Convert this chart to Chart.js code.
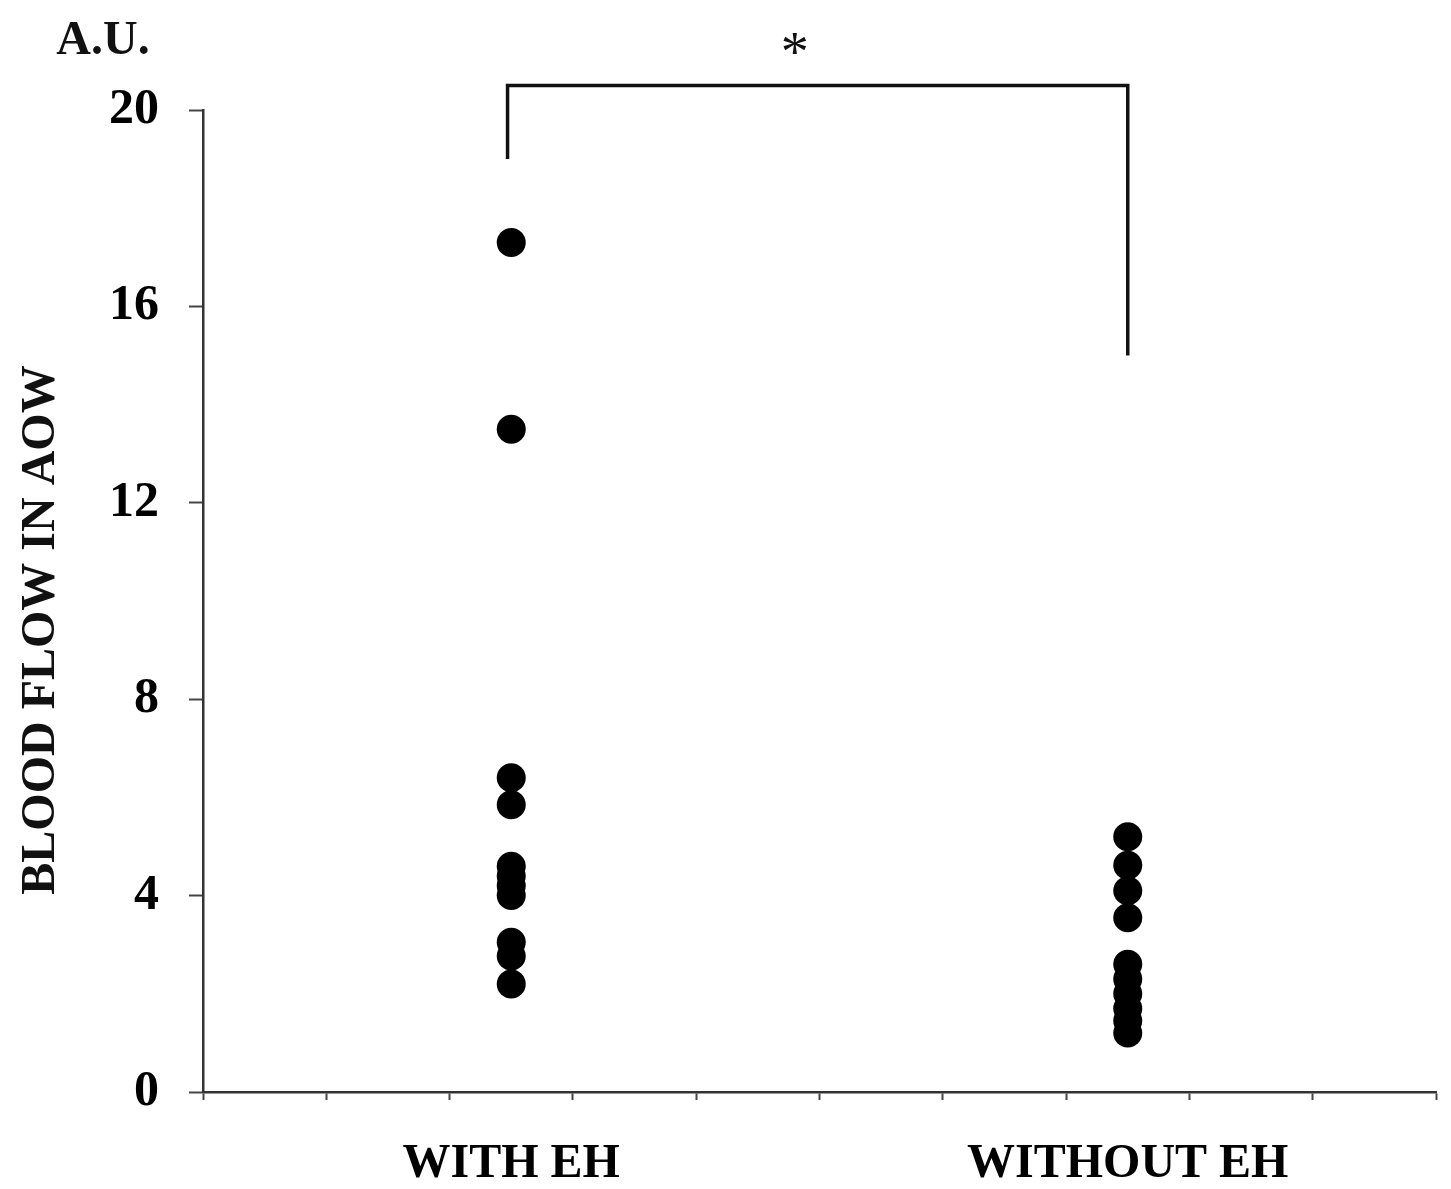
<!DOCTYPE html>
<html>
<head>
<meta charset="utf-8">
<script src="https://cdn.jsdelivr.net/npm/chart.js@4/dist/chart.umd.min.js"></script>
<style>
  html, body { margin: 0; padding: 0; background: #fff; }
  #wrap { width: 1451px; height: 1189px; }
</style>
</head>
<body>
<div id="wrap"><canvas id="chart_flow"></canvas></div>
<script>
// groups and where they sit on the 0..10 x scale
var groups = ["WITH EH", "WITHOUT EH"];
var groupPos = [2.5, 7.5];

// blood flow values (A.U.)
var withEH = [17.3, 13.5, 6.4, 5.85, 4.6, 4.4, 4.2, 4.0, 3.05, 2.77, 2.2];
var withoutEH = [5.2, 4.62, 4.1, 3.55, 2.6, 2.3, 2.0, 1.7, 1.45, 1.2];

var yTicks = [0, 4, 8, 12, 16, 20];
var xMarks = [0, 1, 2, 3, 4, 5, 6, 7, 8, 9, 10];

// significance bracket and star (data units)
var bracketX = [2.47, 7.5];
var bracketTop = 20.5;
var bracketEnds = [19.0, 15.0];
var starAt = [4.8, 21.25];

const serif = '"Liberation Serif", "DejaVu Serif", serif';

const toPoints = (vals, x) => vals.map(v => ({ x: x, y: v }));

const extras = {
  id: 'extras',
  afterDraw(chart) {
    const c = chart.ctx;
    const xs = chart.scales.x, ys = chart.scales.y;
    const px = (v) => xs.getPixelForValue(v);
    const py = (v) => ys.getPixelForValue(v);
    c.save();
    // bracket
    c.strokeStyle = '#111';
    c.lineWidth = 3.5;
    c.beginPath();
    c.moveTo(px(bracketX[0]), py(bracketEnds[0]));
    c.lineTo(px(bracketX[0]), py(bracketTop));
    c.lineTo(px(bracketX[1]), py(bracketTop));
    c.lineTo(px(bracketX[1]), py(bracketEnds[1]));
    c.stroke();
    // star
    c.fillStyle = '#111';
    c.textAlign = 'center';
    c.textBaseline = 'middle';
    c.font = '56px ' + serif;
    c.fillText('*', px(starAt[0]), py(starAt[1]) + 8);
    // unit
    c.font = 'bold 48px ' + serif;
    c.fillText('A.U.', 103, 42);
    // y title
    c.translate(42, 630);
    c.rotate(-Math.PI / 2);
    c.fillText('BLOOD FLOW IN AOW', 0, 0);
    c.restore();
  }
};

const ctx = document.getElementById('chart_flow').getContext('2d');
new Chart(ctx, {
  type: 'scatter',
  data: {
    datasets: [
      { label: groups[0], data: toPoints(withEH, groupPos[0]) },
      { label: groups[1], data: toPoints(withoutEH, groupPos[1]) }
    ]
  },
  options: {
    responsive: true,
    maintainAspectRatio: false,
    animation: false,
    layout: { padding: { left: 79, right: 15, top: 110, bottom: 0 } },
    elements: {
      point: { radius: 14.5, hoverRadius: 14.5, backgroundColor: '#000', borderWidth: 0 }
    },
    plugins: { legend: { display: false }, tooltip: { enabled: false } },
    scales: {
      x: {
        type: 'linear', min: 0, max: 10,
        afterBuildTicks: (s) => { s.ticks = xMarks.map(v => ({ value: v })); },
        grid: { drawOnChartArea: false, tickLength: 8, tickWidth: 2, tickColor: '#444' },
        border: { color: '#333', width: 2.5 },
        ticks: { display: false }
      },
      xl: {
        type: 'linear', position: 'bottom', min: 0, max: 10,
        afterBuildTicks: (s) => { s.ticks = groupPos.map(v => ({ value: v })); },
        grid: { display: false, tickLength: 41 },
        border: { display: false },
        ticks: {
          autoSkip: false, maxRotation: 0, padding: 0, color: '#000',
          font: { family: serif, size: 48, weight: 'bold', lineHeight: 1 },
          callback: (v) => groups[groupPos.indexOf(v)]
        }
      },
      y: {
        min: 0, max: 20,
        afterBuildTicks: (s) => { s.ticks = yTicks.map(v => ({ value: v })); },
        grid: { drawOnChartArea: false, tickLength: 14, tickWidth: 2, tickColor: '#444' },
        border: { color: '#333', width: 2.5 },
        ticks: { padding: 30, color: '#000', font: { family: serif, size: 50, weight: 'bold' } }
      }
    }
  },
  plugins: [extras]
});
</script>
</body>
</html>
